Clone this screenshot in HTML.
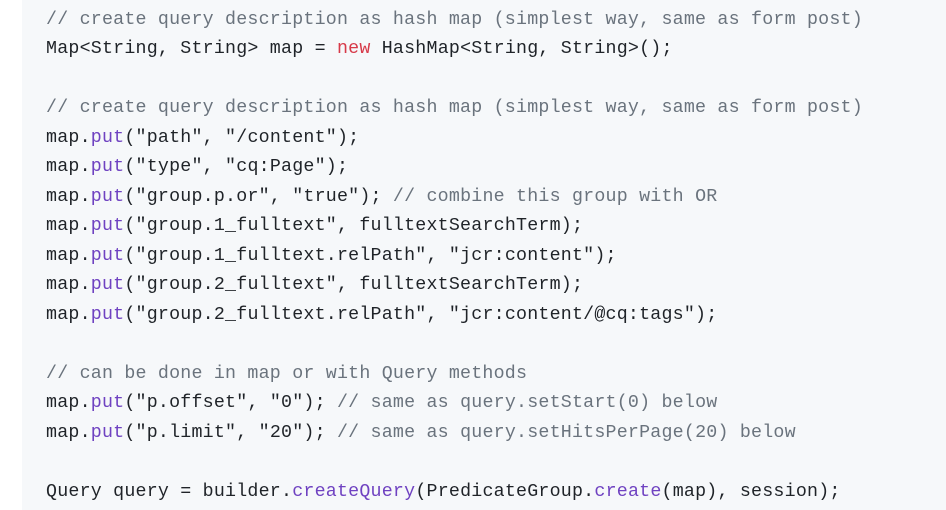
<!DOCTYPE html>
<html><head><meta charset="utf-8"><style>
html,body{margin:0;padding:0;background:#fff;width:946px;height:510px;overflow:hidden}
.panel{position:absolute;left:22px;top:0;width:924px;height:510px;background:#f6f8fa}
pre{position:absolute;left:46px;top:5.5px;margin:0;font-family:"Liberation Mono",monospace;font-size:18.3px;letter-spacing:0.22px;line-height:29.5px;color:#1f2328}
.c{color:#6a737d}.k{color:#d73a49}.f{color:#6f42c1}
</style></head><body>
<div class="panel"></div>
<pre><span class="c">// create query description as hash map (simplest way, same as form post)</span>
Map&lt;String, String&gt; map = <span class="k">new</span> HashMap&lt;String, String&gt;();

<span class="c">// create query description as hash map (simplest way, same as form post)</span>
map.<span class="f">put</span>("path", "/content");
map.<span class="f">put</span>("type", "cq:Page");
map.<span class="f">put</span>("group.p.or", "true"); <span class="c">// combine this group with OR</span>
map.<span class="f">put</span>("group.1_fulltext", fulltextSearchTerm);
map.<span class="f">put</span>("group.1_fulltext.relPath", "jcr:content");
map.<span class="f">put</span>("group.2_fulltext", fulltextSearchTerm);
map.<span class="f">put</span>("group.2_fulltext.relPath", "jcr:content/@cq:tags");

<span class="c">// can be done in map or with Query methods</span>
map.<span class="f">put</span>("p.offset", "0"); <span class="c">// same as query.setStart(0) below</span>
map.<span class="f">put</span>("p.limit", "20"); <span class="c">// same as query.setHitsPerPage(20) below</span>

Query query = builder.<span class="f">createQuery</span>(PredicateGroup.<span class="f">create</span>(map), session);</pre>
</body></html>
